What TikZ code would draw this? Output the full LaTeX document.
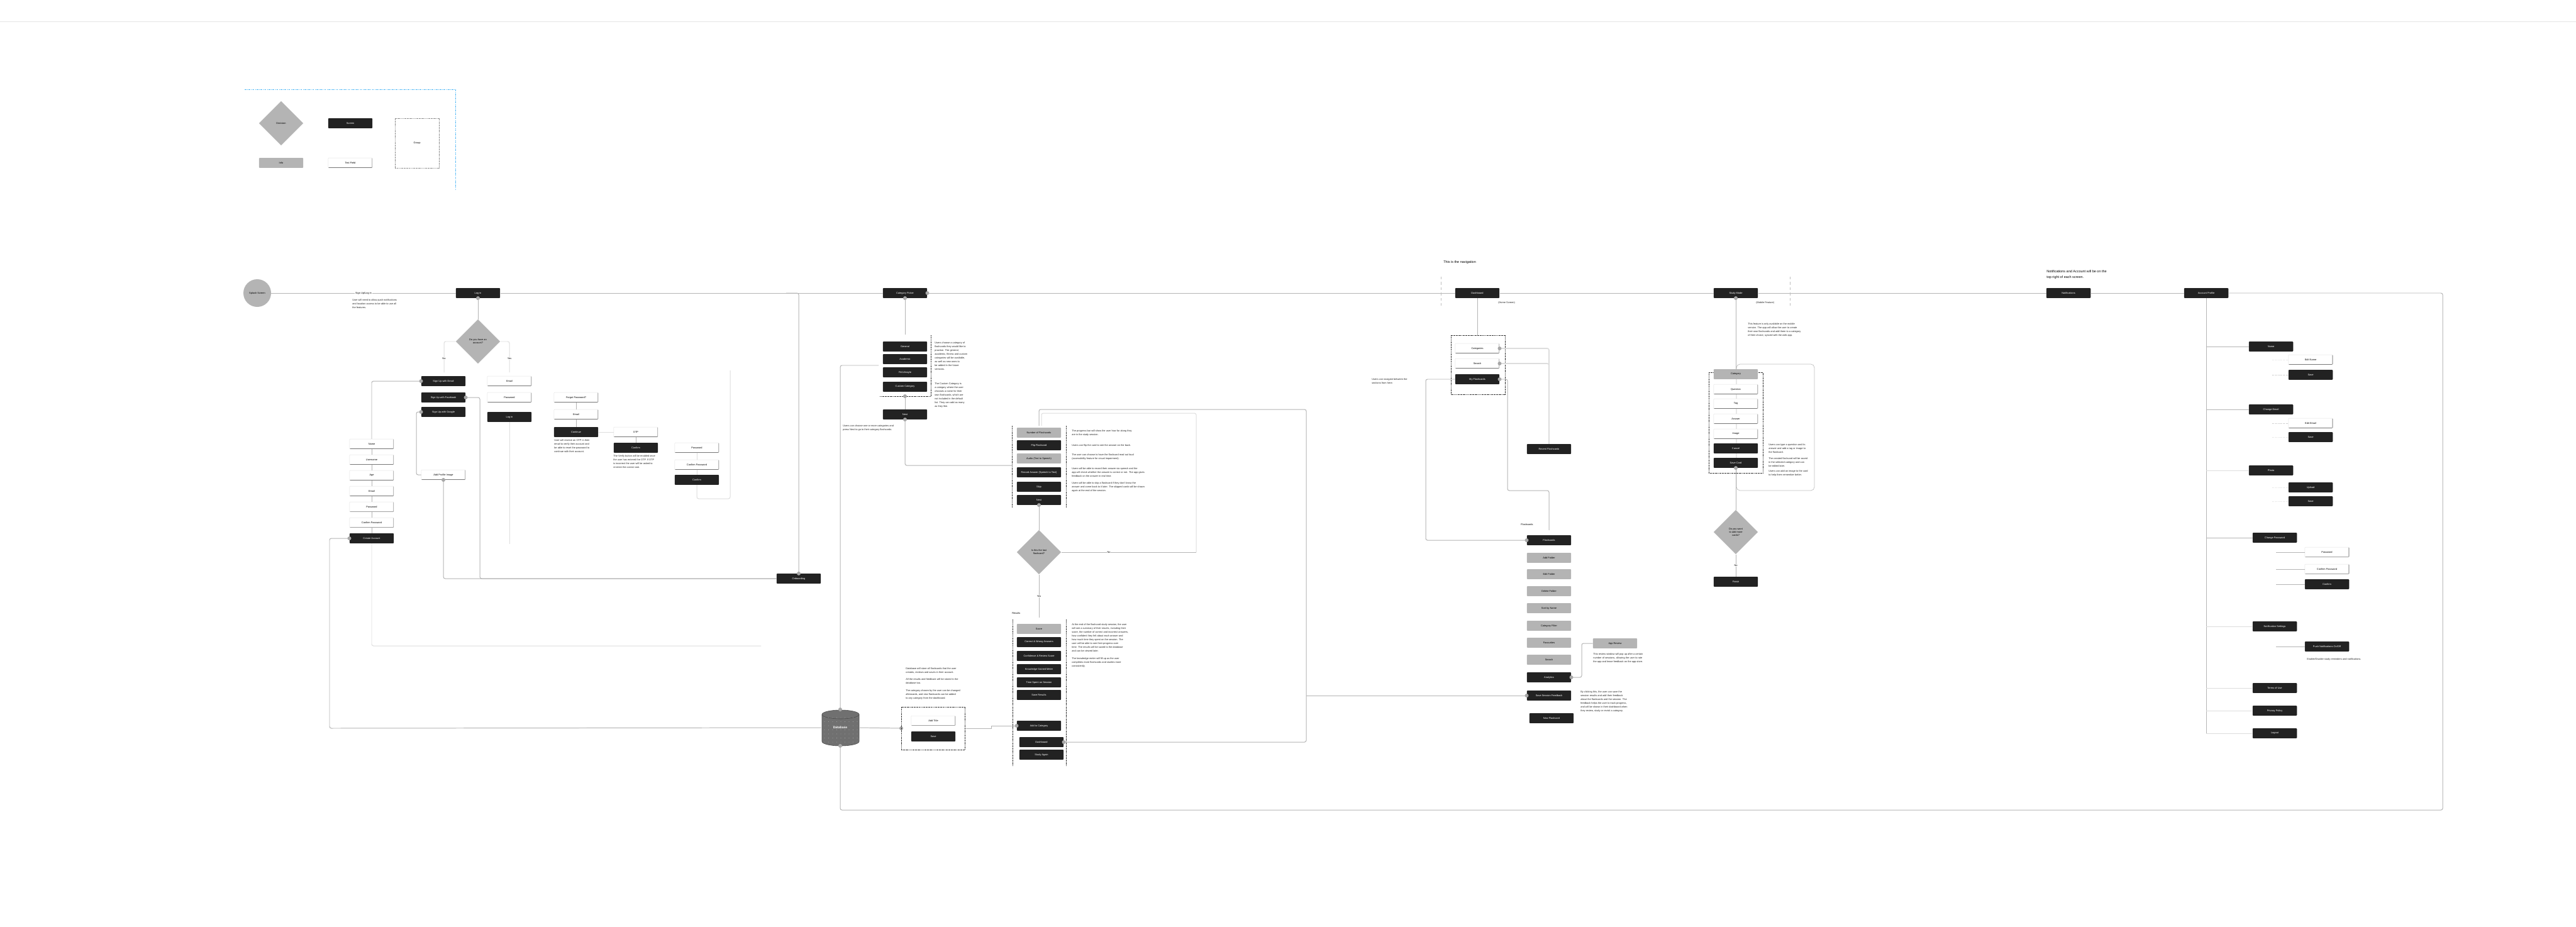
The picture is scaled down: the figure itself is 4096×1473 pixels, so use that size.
\documentclass[tikz,border=0pt]{standalone}
\usepackage{fontspec}
\setmainfont{Liberation Sans}
\usetikzlibrary{shapes.geometric}
\definecolor{bk}{HTML}{222222}
\definecolor{gy}{HTML}{B4B4B4}
\definecolor{ln}{HTML}{B4B4B4}
\definecolor{lnf}{HTML}{DDDDDD}
\definecolor{dt}{HTML}{A8A8A8}
\definecolor{blu}{HTML}{4DB6F5}
\definecolor{dbc}{HTML}{707070}
\newcommand\pdot[2]{\node[dotn] (#1) at (#2) {};}
\begin{document}
\begin{tikzpicture}[x=0.025cm,y=-0.025cm,
  bxbase/.style={minimum width=1.76cm,minimum height=0.39cm,inner sep=0pt,font=\fontsize{2.8}{3.2}\selectfont,rounded corners=0.6pt},
  blk/.style={bxbase,fill=bk,text=white},
  gry/.style={bxbase,fill=gy,text=black},
  wht/.style={bxbase,fill=white,draw=black!12,line width=0.3pt,
    path picture={\draw[black!75,line width=0.8pt] (path picture bounding box.north east) -- (path picture bounding box.south east) -- (path picture bounding box.south west);}},
  dec/.style={diamond,aspect=1,fill=gy,minimum width=1.76cm,minimum height=1.76cm,inner sep=0pt,align=center,font=\fontsize{2.8}{3.6}\selectfont},
  conn/.style={draw=ln,line width=0.7pt,rounded corners=2pt},
  faint/.style={draw=lnf,line width=0.7pt,rounded corners=2pt},
  grp/.style={draw=black!80,line width=0.4pt,dash pattern=on 1.2pt off 0.6pt on 0.3pt off 0.6pt},
  para/.style={anchor=north west,inner sep=0pt,align=left,font=\fontsize{2.8}{4.3}\selectfont,text=black!85},
  lbl/.style={fill=white,inner sep=0.6pt,font=\fontsize{2.8}{3.2}\selectfont},
  dotn/.style={circle,fill=dt,inner sep=0pt,minimum size=0.15cm},
  big/.style={anchor=north west,inner sep=0pt,align=left,font=\fontsize{3.9}{6.4}\selectfont,text=black}
]
\fill[white] (0,0) rectangle (4096,1473);
\useasboundingbox (0,0) rectangle (4096,1473);
\draw[black!10,line width=0.5pt] (0,34) -- (4096,34);

% ---------------- legend
\draw[blu,line width=0.6pt,dash pattern=on 2pt off 1pt on 0.5pt off 1pt] (389,142) -- (724,142) -- (724,302);
\node[dec] (lgdec) at (447,196) {Decision};
\node[blk] (lgblk) at (557,196) {Screen};
\node[gry] (lggry) at (447,259) {Info};
\node[wht] (lgwht) at (557,259) {Text Field};
\node[grp,draw=black!45,minimum width=1.75cm,minimum height=1.98cm,font=\fontsize{2.8}{3.2}\selectfont] (lggrp) at (663,228) {Group};

% ---------------- main row
\node[circle,fill=gy,minimum size=1.1cm,inner sep=0pt,font=\fontsize{2.8}{3.2}\selectfont] (splash) at (409,466) {Splash Screen};
\node[blk] (login) at (760,466) {Log in};
\node[blk] (catpick) at (1439,466) {Category Picker};
\node[blk] (dash) at (2349,466) {Dashboard};
\node[blk] (study) at (2760,466) {Study Mode};
\node[blk] (notif) at (3289,466) {Notifications};
\node[blk] (acct) at (3508,466) {Account Profile};
\node[blk] (onb) at (1270,920) {Onboarding};

% database
\fill[dbc] (1307,1136) -- (1307,1179) arc[start angle=180,end angle=360,x radius=0.7375cm,y radius=0.175cm] -- (1366,1136) arc[start angle=0,end angle=180,x radius=0.7375cm,y radius=0.175cm] -- cycle;
\draw[black!70,line width=0.4pt] (1307,1136) -- (1307,1179) arc[start angle=180,end angle=360,x radius=0.7375cm,y radius=0.175cm] -- (1366,1136);
\draw[black!70,line width=0.4pt] (1336.5,1136) ellipse [x radius=0.7375cm,y radius=0.175cm];
\foreach \i in {0,...,8} \foreach \j in {0,...,6} \fill[white!55!dbc] (1311+\i*6.5,1141+\j*6.5) circle (0.25pt);
\node[minimum width=1.5cm,minimum height=1.43cm,inner sep=0pt,text=white,font=\fontsize{3.6}{4}\selectfont\bfseries] (db) at (1336,1157) {Database};

\draw[conn] (splash.east) -- (login.west);
\node[lbl] (lsign) at (578,466) {Sign Up/Log in};
\draw[conn] (login.east) -- (catpick.west);
\draw[conn] (catpick.east) -- (dash.west);
\draw[conn] (dash.east) -- (study.west);
\draw[conn] (study.east) -- (notif.west);
\draw[conn] (notif.east) -- (acct.west);
\draw[conn] (acct.east) -- (3884,466) -- (3884,1288) -- (1336,1288) -- (db.south);
\draw[conn] (1250,466) -| (onb.north);
\pdot{dlog}{login.south}
\pdot{dcat1}{catpick.east}
\pdot{dcat2}{catpick.south}
\pdot{donb}{onb.north}
\node[para] (tsplash) at (560,475) {User will need to allow push notifications\\and location access to be able to use all\\the features.};

% ---------------- log in / sign up
\node[dec] (d1) at (760,543) {Do you have an\\account?};
\draw[conn] (login.south) -- (d1.north);
\draw[faint] (d1.west) -| (706,592);
\node[lbl] (lno1) at (706,570) {No};
\draw[faint] (d1.east) -| (810,592);
\node[lbl] (lyes1) at (810,570) {Yes};

\node[blk] (sue) at (705,606) {Sign Up with Email};
\node[blk] (suf) at (705,632) {Sign Up with Facebook};
\node[blk] (sug) at (705,655) {Sign Up with Google};
\node[wht] (api) at (705,755) {Add Profile Image};

\node[wht] (em) at (810,606) {Email};
\node[wht] (pw) at (810,632) {Password};
\node[blk] (li2) at (810,663) {Log in};
\draw[faint] (li2.south) -- (810,865);

\node[wht] (fp) at (916,632) {Forgot Password?};
\node[wht] (fpe) at (916,659) {Email};
\node[blk] (fpc) at (916,687) {Continue};
\draw[conn] (fp.south) -- (fpe.north);
\draw[conn] (fpe.south) -- (fpc.north);
\node[para] (tfp) at (881,698) {User will receive an OTP in their\\email to verify their account and\\be able to reset the password to\\continue with their account.};

\node[wht] (otp) at (1011,687) {OTP};
\node[blk] (otpc) at (1011,712) {Confirm};
\draw[faint] (fpc.east) -- (otp.west);
\draw[conn] (otp.south) -- (otpc.north);
\node[para] (totp) at (975,723) {The Verify button will be enabled once\\the user has entered the OTP. If OTP\\is incorrect the user will be asked to\\re-enter the correct one.};

\node[wht] (npw) at (1108,712) {Password};
\node[wht] (ncpw) at (1108,739) {Confirm Password};
\node[blk] (npc) at (1108,763) {Confirm};
\draw[faint] (npw.south) -- (ncpw.north);
\draw[faint] (ncpw.south) -- (npc.north);
\draw[faint] (npc.south) -- (1108,793) -- (1161,793) -- (1161,589);

\node[wht] (nm) at (591,706) {Name};
\node[wht] (un) at (591,731) {Username};
\node[wht] (age) at (591,756) {Age};
\node[wht] (cem) at (591,781) {Email};
\node[wht] (spw) at (591,806) {Password};
\node[wht] (scpw) at (591,831) {Confirm Password};
\node[blk] (create) at (591,856) {Create Account};
\draw[conn] (nm.south) -- (un.north);
\draw[conn] (un.south) -- (age.north);
\draw[conn] (age.south) -- (cem.north);
\draw[conn] (cem.south) -- (spw.north);
\draw[conn] (spw.south) -- (scpw.north);
\draw[conn] (scpw.south) -- (create.north);

\draw[conn] (sue.west) -| (nm.north);
\pdot{dsue}{sue.west}
\draw[conn] (suf.east) -- (763,632) -- (763,920) -- (onb.west);
\pdot{dsuf}{suf.east}
\draw[conn] (sug.west) -- (662,655) -- (662,755) -- (api.west);
\pdot{dsug}{sug.west}
\draw[conn] (api.south) |- (onb.west);
\pdot{dapi}{api.south}
\draw[conn] (create.west) -- (524,856) -- (524,1158) -- (db.west);
\pdot{dcre}{create.west}
\draw[faint] (create.south) -- (591,1027) -- (1210,1027);

% ---------------- category picker
\draw[conn] (catpick.south) -- (1439,532);
\node[blk] (c1) at (1439,551) {General};
\node[blk] (c2) at (1439,571) {Academic};
\node[blk] (c3) at (1439,592) {Fit/Lifestyle};
\node[blk] (c4) at (1439,615) {Custom Category};
\draw[grp] (1480,533) -- (1480,630) -- (1399,630);
\coordinate (cgb) at (1439,630);
\node[blk] (nextc) at (1439,659) {Next};
\draw[conn] (cgb) -- (nextc.north);
\pdot{dcgb}{cgb}
\draw[conn] (nextc.south) -- (1439,740) -- (1609,740);
\pdot{dnext}{nextc.south}
\node[para] (tcat1) at (1486,543) {Users choose a category of\\flashcards they would like to\\practise. The general,\\academic, fitness and custom\\categories will be available,\\as well as new ones to\\be added in the future\\versions.};
\node[para] (tcat2) at (1486,608) {The Custom Category is\\a category where the user\\chooses a name for their\\own flashcards, which are\\not included in the default\\list. They can add as many\\as they like.};
\node[para] (tnext) at (1340,675) {Users can choose one or more categories and\\press Next to go to their category flashcards.};

\draw[conn] (db.north) -- (1336,581) -- (1397,581);
\pdot{ddbn}{db.north}
\pdot{ddbs}{db.south}

% ---------------- save group
\draw[conn] (db.east) -- (1433,1158);
\pdot{dsg}{1433,1158}
\draw[grp] (1433,1124) rectangle (1534,1192);
\node[wht] (title) at (1484,1146) {Add Title};
\node[blk] (save) at (1484,1171) {Save};
\node[para] (tdb1) at (1440,1061) {Database will store all flashcards that the user\\creates, reviews and saves in their account.};
\node[para] (tdb2) at (1440,1078) {All the results and feedback will be stored in the\\database too.};
\node[para] (tdb3) at (1440,1096) {The category chosen by the user can be changed\\afterwards, and new flashcards can be added\\to any category from the dashboard.};

% ---------------- study session group
\draw[grp] (1609,677) -- (1609,807);
\draw[grp] (1695,677) -- (1695,807);
\node[gry] (g2a) at (1652,688) {Number of Flashcards};
\node[blk] (g2b) at (1652,708) {Flip Flashcard};
\node[gry] (g2c) at (1652,729) {Audio (Text to Speech)};
\node[blk] (g2d) at (1652,751) {Record Answer (Speech to Text)};
\node[blk] (g2e) at (1652,774) {Skip};
\node[blk] (g2f) at (1652,795) {Next};
\node[para] (tg1) at (1704,683) {The progress bar will show the user how far along they\\are in the study session.};
\node[para] (tg2) at (1704,706) {Users can flip the card to see the answer on the back.};
\node[para] (tg3) at (1704,721) {The user can choose to have the flashcard read out loud\\(accessibility feature for visual impairment).};
\node[para] (tg4) at (1704,743) {Users will be able to record their answer via speech and the\\app will check whether the answer is correct or not. The app gives\\feedback on the answer in real time.};
\node[para] (tg5) at (1704,766) {Users will be able to skip a flashcard if they don't know the\\answer and come back to it later. The skipped cards will be shown\\again at the end of the session.};

\node[dec] (d2) at (1652,878) {Is this the last\\flashcard?};
\draw[conn] (g2f.south) -- (d2.north);
\pdot{dg2f}{g2f.south}
\draw[conn] (d2.east) -- (1902,878);
\draw[faint] (1902,878) -- (1902,657) -- (1656,657) -- (1656,677);
\node[lbl] (lno2) at (1763,878) {No};
\draw[conn] (d2.south) -- (1652,982);
\node[lbl] (lyes2) at (1652,948) {Yes};
\node[anchor=west,inner sep=0pt,font=\fontsize{2.8}{3.2}\selectfont] (tres) at (1609,975) {Results};

% ---------------- results group
\draw[grp] (1610,985) -- (1610,1218);
\draw[grp] (1695,985) -- (1695,1218);
\node[gry] (g3a) at (1652,1000) {Score};
\node[blk] (g3b) at (1652,1021) {Correct \& Wrong Answers};
\node[blk] (g3c) at (1652,1043) {Confidence \& Review Score};
\node[blk] (g3d) at (1652,1064) {Knowledge Gained Meter};
\node[blk] (g3e) at (1652,1085) {Time Spent on Session};
\node[blk] (g3f) at (1652,1105) {Save Results};
\node[blk] (g3g) at (1652,1154) {Add to Category};
\node[blk] (g3h) at (1656,1180) {Dashboard};
\node[blk] (g3i) at (1656,1200) {Study Again};
\node[para] (tg6) at (1704,991) {At the end of the flashcard study session, the user\\will see a summary of their results, including their\\score, the number of correct and incorrect answers,\\how confident they felt about each answer and\\how much time they spent on the session. The\\user will be able to see their progress over\\time. The results will be saved to the database\\and can be viewed later.};
\node[para] (tg7) at (1704,1045) {The knowledge meter will fill up as the user\\completes more flashcards and studies more\\consistently.};
\draw[draw=ln,line width=0.7pt] (1536,1158) -- (1576,1158) -- (1576,1154) -- (g3g.west);
\pdot{dg3g}{g3g.west}
\draw[conn] (g3h.east) -- (2077,1180) -- (2077,651) -- (1652,651) -- (1652,677);
\pdot{dg3h}{g3h.east}

% ---------------- navigation / dashboard
\node[big] (tnav) at (2295,414) {This is the navigation};
\draw[black!25,line width=0.4pt,dashed] (2291,440) -- (2291,490);
\node[para] (tdash) at (2382,479) {(Home Screen)};
\draw[conn] (dash.south) -- (2349,533);
\draw[grp] (2307,533) rectangle (2393,627);
\node[wht] (n1) at (2349,554) {Categories};
\node[wht] (n2) at (2349,578) {Search};
\node[blk] (n3) at (2349,603) {My Flashcards};
\node[blk] (rec) at (2463,714) {Recent Flashcards};
\draw[draw=lnf,line width=1.2pt,rounded corners=2pt] (n1.east) -- (2463,554) -- (rec.north);
\draw[draw=lnf,line width=1.2pt,rounded corners=2pt] (n2.east) -- (2463,578) -- (2463,600);
\pdot{dn1}{n1.east}
\pdot{dn2}{n2.east}
\pdot{dn3}{n3.east}
\draw[conn] (n3.east) -- (2397,603) -- (2397,780) -- (2463,780) -- (2463,843);
\node[para] (tnavl) at (2181,601) {Users can navigate between the\\sections from here.};

% flashcards list
\node[anchor=west,inner sep=0pt,font=\fontsize{2.8}{3.2}\selectfont] (tfl) at (2418,834) {Flashcards};
\node[blk] (fl1) at (2463,859) {Flashcards};
\node[gry] (fl2) at (2463,887) {Add Folder};
\node[gry] (fl3) at (2463,913) {Edit Folder};
\node[gry] (fl4) at (2463,940) {Delete Folder};
\node[gry] (fl5) at (2463,967) {Sort by Name};
\node[gry] (fl6) at (2463,995) {Category Filter};
\node[gry] (fl7) at (2463,1022) {Favourites};
\node[gry] (fl8) at (2463,1049) {Search};
\node[blk] (fl9) at (2463,1077) {Analytics};
\node[blk] (fl10) at (2463,1106) {Save Session Feedback};
\node[blk] (fl11) at (2467,1142) {New Flashcard};
\node[gry] (appr) at (2568,1023) {App Review};
\node[para] (tappr) at (2533,1038) {This review window will pop up after a certain\\number of sessions, allowing the user to rate\\the app and leave feedback on the app store.};
\node[para] (tfl10) at (2513,1098) {By clicking this, the user can save the\\session results and add their feedback\\about the flashcards and the session. The\\feedback helps the user to track progress,\\and will be shown in their dashboard when\\they review, study or revisit a category.};
\draw[conn] (n3.west) -- (2267,603) -- (2267,859) -- (fl1.west);
\pdot{dfl1}{fl1.west}
\draw[conn] (fl9.east) -- (2515,1077) -- (2515,1023) -- (appr.west);
\pdot{dfl9}{fl9.east}
\draw[conn] (2077,1106) -- (fl10.west);
\pdot{dfl10}{fl10.west}

% ---------------- study mode
\node[para] (tmob) at (2792,479) {(Mobile Feature)};
\draw[black!25,line width=0.4pt,dashed] (2846,440) -- (2846,490);
\node[para] (tstudy) at (2779,513) {This feature is only available on the mobile\\version. The app will allow the user to create\\their own flashcards and add them to a category\\of their choice, synced with the web app.};
\draw[black!25,line width=0.5pt,rounded corners=4pt] (2761,579) rectangle (2885,780);
\draw[grp] (2717,592) rectangle (2803,752);
\node[gry] (s1) at (2760,595) {Category};
\node[wht] (s2) at (2760,619) {Question};
\node[wht] (s3) at (2760,642) {Tag};
\node[wht] (s4) at (2760,666) {Answer};
\node[wht] (s5) at (2760,690) {Image};
\node[blk] (s6) at (2760,713) {Cancel};
\node[blk] (s7) at (2760,736) {Save Card};
\draw[conn] (study.south) -- (s1.north);
\pdot{dstudy}{study.south}
\node[para] (ts1) at (2812,705) {Users can type a question and its\\answer and add a tag or image to\\the flashcard.};
\node[para] (ts2) at (2812,727) {The created flashcard will be saved\\in the selected category and can\\be edited later.};
\node[para] (ts3) at (2812,747) {Users can add an image to the card\\to help them remember better.};
\node[dec] (d3) at (2760,846) {Do you want\\to add more\\cards?};
\draw[conn] (s7.south) -- (d3.north);
\pdot{ds7}{s7.south}
\node[blk] (fin) at (2760,925) {Finish};
\draw[conn] (d3.south) -- (fin.north);
\node[lbl] (lno3) at (2760,899) {No};

% ---------------- notifications / account
\node[big] (tnot) at (3254,429) {Notifications and Account will be on the\\top right of each screen.};
\draw[conn] (acct.south) -- (3508,1166);
\node[blk] (a1) at (3611,551) {Name};
\node[wht] (a1a) at (3674,572) {Edit Name};
\node[blk] (a1b) at (3674,596) {Save};
\node[blk] (a2) at (3611,651) {Change Email};
\node[wht] (a2a) at (3674,673) {Edit Email};
\node[blk] (a2b) at (3674,695) {Save};
\node[blk] (a3) at (3611,748) {Photo};
\node[blk] (a3a) at (3674,775) {Upload};
\node[blk] (a3b) at (3674,797) {Save};
\node[blk] (a4) at (3617,855) {Change Password};
\node[wht] (a4a) at (3700,878) {Password};
\node[wht] (a4b) at (3700,905) {Confirm Password};
\node[blk] (a4c) at (3700,929) {Confirm};
\node[blk] (a5) at (3617,996) {Notification Settings};
\node[blk] (a5a) at (3700,1028) {Push Notifications On/Off};
\node[para] (ta5) at (3668,1046) {Enable/Disable study reminders and notifications.};
\node[blk] (a6) at (3617,1094) {Terms of Use};
\node[blk] (a7) at (3617,1130) {Privacy Policy};
\node[blk] (a8) at (3617,1166) {Logout};
\draw[conn] (3508,551) -- (a1.west);
\draw[conn] (3508,651) -- (a2.west);
\draw[faint] (3508,748) -- (a3.west);
\draw[conn] (3508,855) -- (a4.west);
\draw[faint] (3508,996) -- (a5.west);
\draw[faint] (3508,1094) -- (a6.west);
\draw[faint] (3508,1130) -- (a7.west);
\draw[faint] (3508,1166) -- (a8.west);
\draw[faint,densely dotted] (3613,572) -- (a1a.west);
\draw[conn,densely dotted] (3613,596) -- (a1b.west);
\draw[conn,densely dotted] (3613,673) -- (a2a.west);
\draw[faint,densely dotted] (3613,695) -- (a2b.west);
\draw[faint,densely dotted] (3613,775) -- (a3a.west);
\draw[faint,densely dotted] (3613,797) -- (a3b.west);
\draw[conn] (3619,878) -- (a4a.west);
\draw[conn] (3619,905) -- (a4b.west);
\draw[conn] (3619,929) -- (a4c.west);
\draw[conn] (3619,1028) -- (a5a.west);
\end{tikzpicture}
\end{document}
